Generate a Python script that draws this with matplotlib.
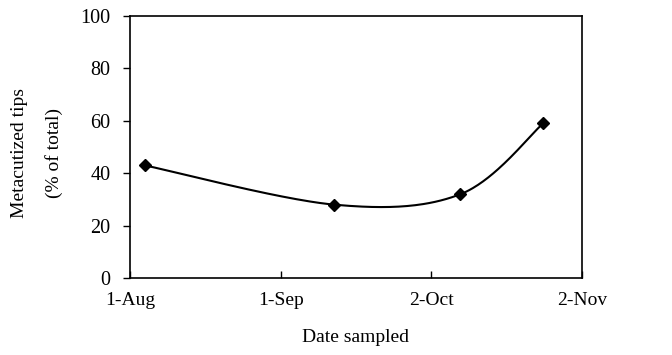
import numpy as np
import matplotlib
matplotlib.use("Agg")
import matplotlib.pyplot as plt
import datetime as dt

# Data
dates = ["2000-08-04", "2000-09-12", "2000-10-08", "2000-10-25"]
values = [43, 28, 32, 59]
tick_dates = ["2000-08-01", "2000-09-01", "2000-10-02", "2000-11-02"]
tick_labels = ["1-Aug", "1-Sep", "2-Oct", "2-Nov"]
yticks = [0, 20, 40, 60, 80, 100]

plt.rcParams['font.family'] = ['Liberation Serif', 'DejaVu Serif']

base = dt.date(2000, 8, 1)
def day(s):
    return (dt.date.fromisoformat(s) - base).days

x = np.array([day(d) for d in dates], dtype=float)
y = np.array(values, dtype=float)
tx = [day(d) for d in tick_dates]

fig = plt.figure(figsize=(6.72, 3.55), dpi=100)
ax = fig.add_axes([130/672, 1-278/355, 452/672, 262/355])

xmin, xmax = tx[0], tx[-1]
ymin, ymax = 0, 100

# Excel-style smoothed line (Bezier with control points at 1/6 of neighbor differences), in normalized space
sx = (xmax - xmin); sy = (ymax - ymin) * (262/452)
P = np.column_stack([(x - xmin) / sx, (y - ymin) / sy])
pts = []
n = len(P)
for i in range(n - 1):
    p0 = P[i - 1] if i > 0 else P[i]
    p1 = P[i]
    p2 = P[i + 1]
    p3 = P[i + 2] if i + 2 < n else P[i + 1]
    c1 = p1 + (p2 - p0) / 6
    c2 = p2 - (p3 - p1) / 6
    t = np.linspace(0, 1, 60)[:, None]
    seg = (1-t)**3*p1 + 3*(1-t)**2*t*c1 + 3*(1-t)*t**2*c2 + t**3*p2
    pts.append(seg)
curve = np.vstack(pts)
cx = curve[:, 0] * sx + xmin
cy = curve[:, 1] * sy + ymin

ax.plot(cx, cy, color='black', lw=1.5, solid_capstyle='round')
ax.plot(x, y, linestyle='none', marker='D', color='black', markersize=6.5)

ax.set_xlim(xmin, xmax)
ax.set_ylim(ymin, ymax)
ax.set_xticks(tx)
ax.set_xticklabels(tick_labels, fontsize=14)
ax.set_yticks(yticks)
ax.set_yticklabels([str(v) for v in yticks], fontsize=14.5)
ax.tick_params(axis='x', direction='in', length=5, width=1, pad=10)
ax.tick_params(axis='y', direction='out', length=5, width=1, pad=9)
for s in ax.spines.values():
    s.set_linewidth(1.2)

fig.text(356/672, 1-338/355, "Date sampled", fontsize=14, ha='center', va='center')
fig.text(20/672, 1-153/355, "Metacutized tips", fontsize=14, ha='center', va='center', rotation=90)
fig.text(54/672, 1-153/355, "(% of total)", fontsize=14, ha='center', va='center', rotation=90)

fig.savefig("out.png", dpi=100)
